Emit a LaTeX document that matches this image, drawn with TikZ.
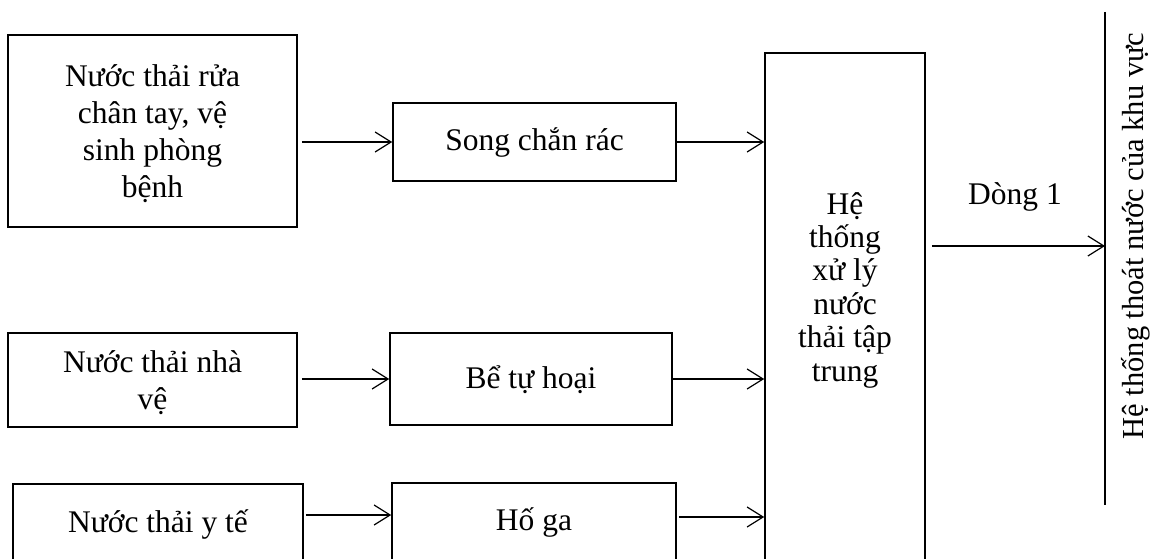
\documentclass[tikz,border=0pt]{standalone}
\usepackage{fontspec}
\setmainfont{Liberation Serif}
\usetikzlibrary{arrows.meta,calc}
\begin{document}
\begin{tikzpicture}[x=1pt,y=-1pt,
  box/.style={draw, line width=1.6pt, inner sep=0pt},
  txt/.style={align=center, inner sep=0pt, font=\fontsize{31.5}{37}\selectfont},
  arr/.style={line width=1.2pt, -{Straight Barb[length=16pt,width=20pt,line width=1.2pt]}}]
\useasboundingbox (0,0) rectangle (1175,559);
\clip (0,0) rectangle (1175,559);
% boxes
\node[box, minimum width=289pt, minimum height=192pt] (A) at (152.5,131) {};
\node[txt] (At) at (152.5,134) {Nước thải rửa\\chân tay, vệ\\sinh phòng\\bệnh};
\node[box, minimum width=289pt, minimum height=94pt] (B) at (152.5,380) {};
\node[txt] (Bt) at (152.5,383) {Nước thải nhà\\vệ};
\node[box, minimum width=290pt, minimum height=150pt] (C) at (158,559) {};
\node[txt] (Ct) at (158,524) {Nước thải y tế};
\node[box, minimum width=283pt, minimum height=78pt] (S) at (534.5,142) {};
\node[txt] (St) at (534.5,142) {Song chắn rác};
\node[box, minimum width=282pt, minimum height=92pt] (Be) at (531,379) {};
\node[txt] (Bet) at (531,380) {Bể tự hoại};
\node[box, minimum width=284pt, minimum height=150pt] (H) at (534,558) {};
\node[txt] (Ht) at (534,522) {Hố ga};
\node[box, minimum width=160pt, minimum height=647pt] (big) at (845,376.5) {};
\node[txt, font=\fontsize{31.5}{33.4}\selectfont] (bigt) at (845,290) {Hệ\\thống\\xử lý\\nước\\thải tập\\trung};
% outlet line
\coordinate (Ltop) at (1105,12);
\coordinate (Lbot) at (1105,505);
\draw[line width=1.3pt] (Ltop) -- (Lbot);
\node[txt, rotate=90, font=\fontsize{30.5}{36}\selectfont] (out) at (1136,236) {Hệ thống thoát nước của khu vực};
\node[txt] (dong) at (1015,197) {Dòng 1};
% helper coordinates
\coordinate (yc) at (0,515);
\coordinate (yh) at (0,517);
\coordinate (yd) at (0,246);
% arrows
\draw[arr, shorten <=4pt] (A.east |- S.west) -- (S.west);
\draw[arr] (S.east) -- (S.east -| big.west);
\draw[arr, shorten <=4pt] (B.east |- Be.west) -- (Be.west);
\draw[arr] (Be.east) -- (Be.east -| big.west);
\draw[arr, shorten <=2pt] (C.east |- yc) -- (H.west |- yc);
\draw[arr, shorten <=2pt] (H.east |- yh) -- (big.west |- yh);
\draw[arr, shorten <=6pt] (big.east |- yd) -- (Ltop |- yd);
\end{tikzpicture}
\end{document}
